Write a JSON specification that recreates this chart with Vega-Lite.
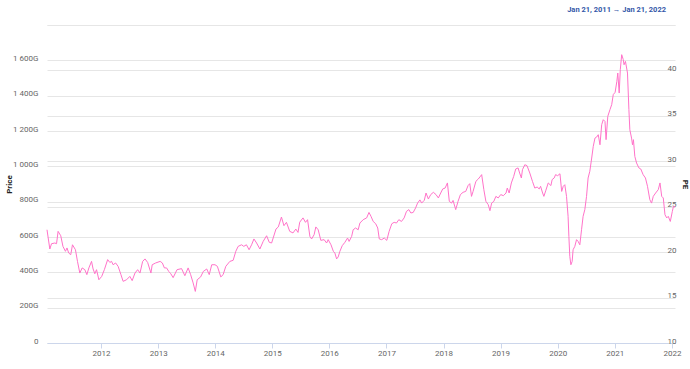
{
  "$schema": "https://vega.github.io/schema/vega-lite/v6.json",
  "width": 628,
  "height": 318,
  "autosize": {"type": "none"},
  "padding": {"left": 47, "top": 25, "right": 15, "bottom": 26},
  "background": "white",
  "config": {
    "view": {"stroke": null},
    "font": "Roboto",
    "axis": {"labelFont": "Roboto", "titleFont": "Roboto"}
  },
  "title": {
    "text": "Jan 21, 2011  →  Jan 21, 2022",
    "anchor": "end",
    "frame": "group",
    "color": "#3357a8",
    "fontSize": 7.5,
    "fontWeight": "bold",
    "font": "Roboto",
    "offset": 9,
    "dx": -9
  },
  "datasets": {
    "series": [
      {"date": "2011-01-21", "price": 641},
      {"date": "2011-02-08", "price": 532},
      {"date": "2011-02-19", "price": 562},
      {"date": "2011-03-12", "price": 566},
      {"date": "2011-03-23", "price": 562},
      {"date": "2011-04-02", "price": 632},
      {"date": "2011-04-19", "price": 607},
      {"date": "2011-05-03", "price": 547},
      {"date": "2011-05-19", "price": 519},
      {"date": "2011-05-29", "price": 538},
      {"date": "2011-06-09", "price": 509},
      {"date": "2011-06-22", "price": 500},
      {"date": "2011-07-03", "price": 556},
      {"date": "2011-07-22", "price": 528},
      {"date": "2011-08-04", "price": 462},
      {"date": "2011-08-19", "price": 396},
      {"date": "2011-09-03", "price": 425},
      {"date": "2011-09-20", "price": 415},
      {"date": "2011-10-03", "price": 387},
      {"date": "2011-10-16", "price": 425},
      {"date": "2011-11-02", "price": 462},
      {"date": "2011-11-12", "price": 419},
      {"date": "2011-11-23", "price": 392},
      {"date": "2011-12-04", "price": 415},
      {"date": "2011-12-19", "price": 358},
      {"date": "2012-01-06", "price": 377},
      {"date": "2012-01-23", "price": 415},
      {"date": "2012-02-13", "price": 472},
      {"date": "2012-02-27", "price": 456},
      {"date": "2012-03-09", "price": 462},
      {"date": "2012-03-19", "price": 443},
      {"date": "2012-04-04", "price": 453},
      {"date": "2012-04-20", "price": 434},
      {"date": "2012-05-08", "price": 387},
      {"date": "2012-05-22", "price": 349},
      {"date": "2012-06-13", "price": 358},
      {"date": "2012-07-04", "price": 377},
      {"date": "2012-07-19", "price": 353},
      {"date": "2012-08-06", "price": 396},
      {"date": "2012-08-23", "price": 415},
      {"date": "2012-09-07", "price": 396},
      {"date": "2012-09-24", "price": 462},
      {"date": "2012-10-09", "price": 476},
      {"date": "2012-10-26", "price": 456},
      {"date": "2012-11-16", "price": 396},
      {"date": "2012-11-24", "price": 443},
      {"date": "2012-12-16", "price": 453},
      {"date": "2013-01-14", "price": 462},
      {"date": "2013-01-28", "price": 453},
      {"date": "2013-02-10", "price": 425},
      {"date": "2013-02-24", "price": 425},
      {"date": "2013-03-10", "price": 405},
      {"date": "2013-03-23", "price": 392},
      {"date": "2013-04-07", "price": 370},
      {"date": "2013-05-02", "price": 415},
      {"date": "2013-05-31", "price": 421},
      {"date": "2013-06-21", "price": 381},
      {"date": "2013-07-12", "price": 425},
      {"date": "2013-07-28", "price": 387},
      {"date": "2013-08-13", "price": 340},
      {"date": "2013-08-27", "price": 292},
      {"date": "2013-09-08", "price": 358},
      {"date": "2013-09-30", "price": 374},
      {"date": "2013-10-17", "price": 405},
      {"date": "2013-11-08", "price": 419},
      {"date": "2013-11-24", "price": 387},
      {"date": "2013-12-10", "price": 443},
      {"date": "2013-12-31", "price": 443},
      {"date": "2014-01-15", "price": 434},
      {"date": "2014-02-06", "price": 374},
      {"date": "2014-02-21", "price": 387},
      {"date": "2014-03-10", "price": 434},
      {"date": "2014-04-05", "price": 462},
      {"date": "2014-04-26", "price": 468},
      {"date": "2014-05-13", "price": 519},
      {"date": "2014-05-28", "price": 547},
      {"date": "2014-06-19", "price": 556},
      {"date": "2014-07-03", "price": 547},
      {"date": "2014-07-20", "price": 556},
      {"date": "2014-08-06", "price": 528},
      {"date": "2014-08-22", "price": 556},
      {"date": "2014-09-06", "price": 589},
      {"date": "2014-09-23", "price": 566},
      {"date": "2014-10-14", "price": 532},
      {"date": "2014-11-04", "price": 575},
      {"date": "2014-11-26", "price": 607},
      {"date": "2014-12-13", "price": 570},
      {"date": "2014-12-28", "price": 566},
      {"date": "2015-01-25", "price": 645},
      {"date": "2015-02-09", "price": 657},
      {"date": "2015-03-01", "price": 713},
      {"date": "2015-03-17", "price": 664},
      {"date": "2015-04-02", "price": 683},
      {"date": "2015-04-23", "price": 632},
      {"date": "2015-05-14", "price": 623},
      {"date": "2015-06-01", "price": 645},
      {"date": "2015-06-15", "price": 626},
      {"date": "2015-06-26", "price": 684},
      {"date": "2015-07-17", "price": 708},
      {"date": "2015-08-02", "price": 683},
      {"date": "2015-08-15", "price": 698},
      {"date": "2015-08-30", "price": 603},
      {"date": "2015-09-10", "price": 589},
      {"date": "2015-09-26", "price": 613},
      {"date": "2015-10-07", "price": 657},
      {"date": "2015-10-22", "price": 641},
      {"date": "2015-11-08", "price": 581},
      {"date": "2015-11-29", "price": 585},
      {"date": "2015-12-15", "price": 566},
      {"date": "2015-12-25", "price": 585},
      {"date": "2016-01-12", "price": 556},
      {"date": "2016-01-27", "price": 519},
      {"date": "2016-02-06", "price": 509},
      {"date": "2016-02-17", "price": 476},
      {"date": "2016-02-27", "price": 487},
      {"date": "2016-03-09", "price": 519},
      {"date": "2016-03-24", "price": 551},
      {"date": "2016-04-10", "price": 570},
      {"date": "2016-04-27", "price": 594},
      {"date": "2016-05-07", "price": 575},
      {"date": "2016-05-23", "price": 603},
      {"date": "2016-06-02", "price": 641},
      {"date": "2016-06-17", "price": 651},
      {"date": "2016-07-04", "price": 641},
      {"date": "2016-07-15", "price": 679},
      {"date": "2016-08-05", "price": 698},
      {"date": "2016-08-27", "price": 708},
      {"date": "2016-09-11", "price": 739},
      {"date": "2016-09-24", "price": 717},
      {"date": "2016-10-08", "price": 688},
      {"date": "2016-10-24", "price": 675},
      {"date": "2016-11-06", "price": 651},
      {"date": "2016-11-16", "price": 589},
      {"date": "2016-12-01", "price": 585},
      {"date": "2016-12-18", "price": 594},
      {"date": "2017-01-03", "price": 581},
      {"date": "2017-01-18", "price": 632},
      {"date": "2017-02-04", "price": 675},
      {"date": "2017-02-19", "price": 683},
      {"date": "2017-03-06", "price": 679},
      {"date": "2017-03-21", "price": 698},
      {"date": "2017-04-07", "price": 688},
      {"date": "2017-04-24", "price": 708},
      {"date": "2017-05-09", "price": 745},
      {"date": "2017-05-24", "price": 755},
      {"date": "2017-06-06", "price": 736},
      {"date": "2017-06-21", "price": 739},
      {"date": "2017-07-06", "price": 764},
      {"date": "2017-07-19", "price": 792},
      {"date": "2017-08-03", "price": 810},
      {"date": "2017-08-14", "price": 792},
      {"date": "2017-08-31", "price": 808},
      {"date": "2017-09-11", "price": 849},
      {"date": "2017-09-26", "price": 815},
      {"date": "2017-10-11", "price": 840},
      {"date": "2017-10-28", "price": 853},
      {"date": "2017-11-14", "price": 840},
      {"date": "2017-11-29", "price": 821},
      {"date": "2017-12-14", "price": 849},
      {"date": "2017-12-27", "price": 872},
      {"date": "2018-01-11", "price": 877},
      {"date": "2018-01-26", "price": 906},
      {"date": "2018-02-07", "price": 802},
      {"date": "2018-02-21", "price": 792},
      {"date": "2018-03-03", "price": 807},
      {"date": "2018-03-20", "price": 755},
      {"date": "2018-04-04", "price": 802},
      {"date": "2018-04-19", "price": 840},
      {"date": "2018-05-06", "price": 853},
      {"date": "2018-05-23", "price": 858},
      {"date": "2018-06-07", "price": 891},
      {"date": "2018-06-18", "price": 902},
      {"date": "2018-06-29", "price": 830},
      {"date": "2018-07-09", "price": 858},
      {"date": "2018-07-27", "price": 915},
      {"date": "2018-08-11", "price": 928},
      {"date": "2018-08-22", "price": 940},
      {"date": "2018-09-02", "price": 953},
      {"date": "2018-09-16", "price": 868},
      {"date": "2018-09-29", "price": 802},
      {"date": "2018-10-14", "price": 783},
      {"date": "2018-10-25", "price": 749},
      {"date": "2018-11-05", "price": 792},
      {"date": "2018-11-19", "price": 802},
      {"date": "2018-12-02", "price": 830},
      {"date": "2018-12-17", "price": 821},
      {"date": "2019-01-02", "price": 840},
      {"date": "2019-01-19", "price": 834},
      {"date": "2019-02-05", "price": 849},
      {"date": "2019-02-13", "price": 877},
      {"date": "2019-02-25", "price": 849},
      {"date": "2019-03-11", "price": 906},
      {"date": "2019-03-26", "price": 943},
      {"date": "2019-04-08", "price": 985},
      {"date": "2019-04-23", "price": 991},
      {"date": "2019-05-03", "price": 962},
      {"date": "2019-05-14", "price": 934},
      {"date": "2019-05-21", "price": 981},
      {"date": "2019-06-05", "price": 1009},
      {"date": "2019-06-19", "price": 1004},
      {"date": "2019-07-07", "price": 962},
      {"date": "2019-07-24", "price": 915},
      {"date": "2019-08-08", "price": 877},
      {"date": "2019-08-23", "price": 883},
      {"date": "2019-09-05", "price": 872},
      {"date": "2019-09-14", "price": 887},
      {"date": "2019-09-27", "price": 849},
      {"date": "2019-10-05", "price": 830},
      {"date": "2019-10-18", "price": 865},
      {"date": "2019-11-02", "price": 906},
      {"date": "2019-11-19", "price": 891},
      {"date": "2019-11-27", "price": 925},
      {"date": "2019-12-10", "price": 934},
      {"date": "2019-12-19", "price": 953},
      {"date": "2020-01-01", "price": 947},
      {"date": "2020-01-16", "price": 958},
      {"date": "2020-01-27", "price": 858},
      {"date": "2020-02-06", "price": 887},
      {"date": "2020-02-16", "price": 896},
      {"date": "2020-02-27", "price": 830},
      {"date": "2020-03-08", "price": 717},
      {"date": "2020-03-13", "price": 603},
      {"date": "2020-03-19", "price": 490},
      {"date": "2020-03-26", "price": 443},
      {"date": "2020-04-03", "price": 462},
      {"date": "2020-04-09", "price": 528},
      {"date": "2020-04-20", "price": 547},
      {"date": "2020-05-01", "price": 585},
      {"date": "2020-05-11", "price": 575},
      {"date": "2020-05-22", "price": 556},
      {"date": "2020-06-02", "price": 641},
      {"date": "2020-06-12", "price": 717},
      {"date": "2020-06-23", "price": 755},
      {"date": "2020-07-04", "price": 830},
      {"date": "2020-07-14", "price": 934},
      {"date": "2020-07-25", "price": 972},
      {"date": "2020-08-06", "price": 1047},
      {"date": "2020-08-16", "price": 1113},
      {"date": "2020-08-27", "price": 1160},
      {"date": "2020-09-07", "price": 1166},
      {"date": "2020-09-17", "price": 1179},
      {"date": "2020-09-28", "price": 1122},
      {"date": "2020-10-09", "price": 1236},
      {"date": "2020-10-19", "price": 1264},
      {"date": "2020-10-30", "price": 1254},
      {"date": "2020-11-06", "price": 1151},
      {"date": "2020-11-17", "price": 1283},
      {"date": "2020-12-01", "price": 1321},
      {"date": "2020-12-12", "price": 1349},
      {"date": "2020-12-22", "price": 1406},
      {"date": "2021-01-03", "price": 1419},
      {"date": "2021-01-14", "price": 1481},
      {"date": "2021-01-20", "price": 1528},
      {"date": "2021-01-29", "price": 1415},
      {"date": "2021-02-05", "price": 1547},
      {"date": "2021-02-14", "price": 1632},
      {"date": "2021-02-24", "price": 1604},
      {"date": "2021-03-01", "price": 1575},
      {"date": "2021-03-10", "price": 1594},
      {"date": "2021-03-23", "price": 1528},
      {"date": "2021-04-01", "price": 1321},
      {"date": "2021-04-07", "price": 1207},
      {"date": "2021-04-18", "price": 1160},
      {"date": "2021-04-24", "price": 1122},
      {"date": "2021-04-30", "price": 1151},
      {"date": "2021-05-09", "price": 1056},
      {"date": "2021-05-20", "price": 1019},
      {"date": "2021-06-04", "price": 991},
      {"date": "2021-06-16", "price": 985},
      {"date": "2021-07-01", "price": 953},
      {"date": "2021-07-16", "price": 934},
      {"date": "2021-07-29", "price": 887},
      {"date": "2021-08-13", "price": 811},
      {"date": "2021-08-24", "price": 792},
      {"date": "2021-09-04", "price": 830},
      {"date": "2021-09-19", "price": 849},
      {"date": "2021-10-06", "price": 868},
      {"date": "2021-10-17", "price": 906},
      {"date": "2021-10-28", "price": 830},
      {"date": "2021-11-07", "price": 821},
      {"date": "2021-11-18", "price": 726},
      {"date": "2021-11-29", "price": 708},
      {"date": "2021-12-09", "price": 717},
      {"date": "2021-12-22", "price": 688},
      {"date": "2022-01-04", "price": 745},
      {"date": "2022-01-11", "price": 773},
      {"date": "2022-01-21", "price": 770}
    ],
    "peRange": [{"pe": 10}, {"pe": 45}]
  },
  "layer": [
    {
      "data": {"name": "series"},
      "mark": {"type": "line", "color": "#ff73c9", "strokeWidth": 1, "interpolate": "linear"},
      "encoding": {
        "x": {
          "field": "date",
          "type": "temporal",
          "scale": {"domain": ["2011-01-21", "2022-01-21"], "nice": false},
          "axis": {
            "title": null,
            "format": "%Y",
            "tickCount": {"interval": "year", "step": 1},
            "grid": false,
            "domainColor": "#ccd6eb",
            "tickColor": "#ccd6eb",
            "tickSize": 5,
            "labelPadding": 1,
            "labelColor": "#666666",
            "labelFontSize": 8,
            "labelFlush": false
          }
        },
        "y": {
          "field": "price",
          "type": "quantitative",
          "scale": {"domain": [0, 1800], "nice": false},
          "axis": {
            "title": "Price",
            "titleFontSize": 8,
            "titleFontWeight": "bold",
            "titleColor": "#222222",
            "titlePadding": -1,
            "values": [0, 200, 400, 600, 800, 1000, 1200, 1400, 1600, 1800],
            "labelExpr": "datum.value == 0 ? '0' : (datum.value >= 1800 ? '' : replace(format(datum.value, ','), ',', ' ') + 'G')",
            "labelColor": "#666666",
            "labelFontSize": 8,
            "labelBaseline": "alphabetic",
            "labelPadding": 9,
            "ticks": false,
            "domain": false,
            "grid": true,
            "gridColor": "#e6e6e6",
            "gridWidth": 1
          }
        }
      }
    },
    {
      "data": {"name": "peRange"},
      "mark": {"type": "point", "opacity": 0},
      "encoding": {
        "y": {
          "field": "pe",
          "type": "quantitative",
          "scale": {"domain": [10, 45], "nice": false},
          "axis": {
            "orient": "right",
            "title": "PE",
            "titleFontSize": 8,
            "titleFontWeight": "bold",
            "titleColor": "#222222",
            "titlePadding": 4,
            "values": [10, 15, 20, 25, 30, 35, 40, 45],
            "labelExpr": "datum.value >= 45 ? '' : datum.label",
            "labelColor": "#666666",
            "labelFontSize": 8,
            "labelBaseline": "alphabetic",
            "labelAlign": "right",
            "labelPadding": 1,
            "ticks": false,
            "domain": false,
            "grid": true,
            "gridColor": "#e6e6e6",
            "gridWidth": 1
          }
        }
      }
    }
  ],
  "resolve": {"scale": {"y": "independent"}, "axis": {"y": "independent"}}
}
